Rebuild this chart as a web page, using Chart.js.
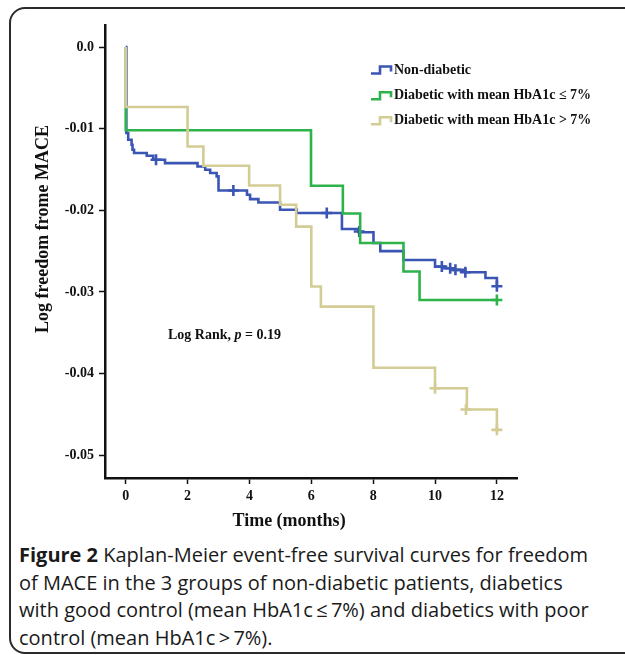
<!DOCTYPE html>
<html><head><meta charset="utf-8">
<script src="https://cdn.jsdelivr.net/npm/chart.js@4.4.1/dist/chart.umd.min.js"></script>
<style>
html,body{margin:0;padding:0;background:#fff;width:625px;height:655px;overflow:hidden;position:relative;}
#frame{position:absolute;left:9px;top:7px;width:640px;height:647px;border:2px solid #2b2b2b;border-radius:16px;box-sizing:border-box;}
#wrap{position:absolute;left:0;top:0;width:625px;height:540px;}
#caption{position:absolute;left:19px;top:541px;white-space:nowrap;font-family:"Open Sans";font-size:20px;line-height:27.7px;color:#1a1a1a;}
#caption b{font-weight:700;}
</style></head>
<body>
<div id="frame"></div>
<div id="wrap"><canvas id="c" width="625" height="540"></canvas></div>
<div id="caption"><b>Figure 2</b> Kaplan-Meier event-free survival curves for freedom<br>of MACE in the 3 groups of non-diabetic patients, diabetics<br>with good control (mean HbA1c&thinsp;&le;&thinsp;7%) and diabetics with poor<br>control (mean HbA1c&thinsp;&gt;&thinsp;7%).</div>
<script>
const timeTicks=[0,2,4,6,8,10,12];
const valueTicks=[0,-0.01,-0.02,-0.03,-0.04,-0.05];
const valueTickLabels=['0.0','-0.01','-0.02','-0.03','-0.04','-0.05'];
const seriesNames=['Non-diabetic','Diabetic with mean HbA1c \u2264 7%','Diabetic with mean HbA1c > 7%'];
const xTitle='Time (months)';
const yTitle='Log freedom frome MACE';

const nonDiabTimes=[0,0.02,0.08,0.19,0.22,0.27,0.68,0.89,1.27,2.32,2.57,2.73,2.94,3.0,3.92,4.02,4.29,4.99,5.53,6.99,7.53,8.01,8.23,8.98,10.0,10.3,10.6,10.98,11.63,12.0];
const nonDiabValues=[0,-0.01054,-0.01136,-0.01197,-0.01259,-0.01299,-0.01332,-0.01381,-0.01422,-0.01463,-0.01504,-0.01544,-0.01585,-0.01757,-0.0181,-0.01863,-0.01904,-0.01994,-0.02034,-0.0223,-0.0227,-0.0240,-0.0250,-0.0261,-0.0269,-0.0271,-0.0273,-0.0276,-0.0283,-0.0293];
const nonDiabCensorTimes=[0.98,3.48,6.5,7.55,10.22,10.49,10.66,10.98,12];
const nonDiabCensorValues=[-0.01381,-0.01757,-0.02034,-0.0226,-0.0269,-0.0271,-0.0273,-0.0276,-0.0293];

const goodTimes=[0,0,5.99,7.02,7.58,8.98,9.5,12];
const goodValues=[0,-0.0102,-0.0170,-0.0204,-0.0240,-0.0275,-0.0310,-0.0310];
const goodCensorTimes=[12];
const goodCensorValues=[-0.0310];

const poorTimes=[0,0,2.0,2.51,3.99,4.99,5.51,6.0,6.31,8.01,10.0,11.03,12.0];
const poorValues=[0,-0.00735,-0.01218,-0.01455,-0.01696,-0.01933,-0.0220,-0.02934,-0.0318,-0.0393,-0.0418,-0.0444,-0.0469];
const poorCensorTimes=[10,11,12];
const poorCensorValues=[-0.0418,-0.0444,-0.0469];

const colors=['#3b55b4','#2db34a','#d3cc95'];

const pts=(t,v)=>t.map((x,i)=>({x:x,y:v[i]}));

const lineDs=(i,t,v,ord)=>({type:'line',label:seriesNames[i],data:pts(t,v),borderColor:colors[i],backgroundColor:colors[i],borderWidth:2.6,stepped:'before',pointRadius:0,fill:false,order:ord});
const censDs=(i,t,v,ord)=>({type:'scatter',label:seriesNames[i]+' censored',data:pts(t,v),borderColor:colors[i],backgroundColor:colors[i],showLine:false,pointStyle:'cross',pointRadius:5.5,pointBorderWidth:2.6,order:ord});

const annot={id:'annot',afterDraw(c){
  const ctx=c.ctx,xs=c.scales.x,ys=c.scales.y;
  ctx.save();
  ctx.fillStyle='#111';
  ctx.textBaseline='middle';
  ctx.font='bold 18px "Liberation Serif"';
  ctx.textAlign='center';
  ctx.fillText(xTitle,xs.getPixelForValue(5.28),521);
  ctx.save();
  ctx.translate(43,229);ctx.rotate(-Math.PI/2);
  ctx.fillText(yTitle,0,0);
  ctx.restore();
  ctx.textAlign='left';
  let x=168,y=335;
  ctx.font='bold 14px "Liberation Serif"';
  ctx.fillText('Log Rank, ',x,y);x+=ctx.measureText('Log Rank, ').width;
  ctx.font='italic bold 14px "Liberation Serif"';
  ctx.fillText('p',x,y);x+=ctx.measureText('p').width;
  ctx.font='bold 14px "Liberation Serif"';
  ctx.fillText(' = 0.19',x,y);
  const rows=[70,95.7,120.7];
  ctx.font='bold 14px "Liberation Serif"';
  rows.forEach((ry,i)=>{
    ctx.strokeStyle=colors[i];ctx.lineWidth=2.6;
    ctx.beginPath();
    ctx.moveTo(371,ry+3.5);ctx.lineTo(380,ry+3.5);ctx.lineTo(380,ry-3.5);ctx.lineTo(391,ry-3.5);ctx.lineTo(391,ry+1.5);
    ctx.stroke();
    ctx.fillStyle='#111';
    ctx.fillText(seriesNames[i],394,ry);
  });
  ctx.restore();
}};

new Chart(document.getElementById('c'),{
  type:'line',
  data:{datasets:[
    lineDs(0,nonDiabTimes,nonDiabValues,2),
    lineDs(1,goodTimes,goodValues,1),
    lineDs(2,poorTimes,poorValues,0),
    censDs(0,nonDiabCensorTimes,nonDiabCensorValues,2),
    censDs(1,goodCensorTimes,goodCensorValues,1),
    censDs(2,poorCensorTimes,poorCensorValues,0)
  ]},
  options:{
    responsive:false,animation:false,
    layout:{padding:{left:0,top:25,right:108,bottom:0}},
    plugins:{legend:{display:false},tooltip:{enabled:false},title:{display:false}},
    scales:{
      x:{type:'linear',min:-0.67,max:12.65,
        afterBuildTicks:s=>{s.ticks=timeTicks.map(v=>({value:v}));},
        afterFit:s=>{s.height=62;},
        grid:{drawOnChartArea:false,drawTicks:true,tickLength:6,tickColor:'#111',tickWidth:1.5},
        border:{display:true,color:'#111',width:2.5},
        ticks:{color:'#111',font:{family:'Liberation Serif',weight:'bold',size:14},padding:4,maxRotation:0,autoSkip:false,callback:v=>String(v)}
      },
      y:{type:'linear',min:-0.0528,max:0.0027,
        afterBuildTicks:s=>{s.ticks=valueTicks.map(v=>({value:v}));},
        afterFit:s=>{s.width=105;},
        grid:{drawOnChartArea:false,drawTicks:true,tickLength:6,tickColor:'#111',tickWidth:1.5},
        border:{display:true,color:'#111',width:2.5},
        ticks:{color:'#111',font:{family:'Liberation Serif',weight:'bold',size:14},padding:5,autoSkip:false,
          callback:v=>{let k=valueTicks.findIndex(t=>Math.abs(t-v)<1e-9);return k>=0?valueTickLabels[k]:'';}}
      }
    }
  },
  plugins:[annot]
});
</script>
</body></html>
